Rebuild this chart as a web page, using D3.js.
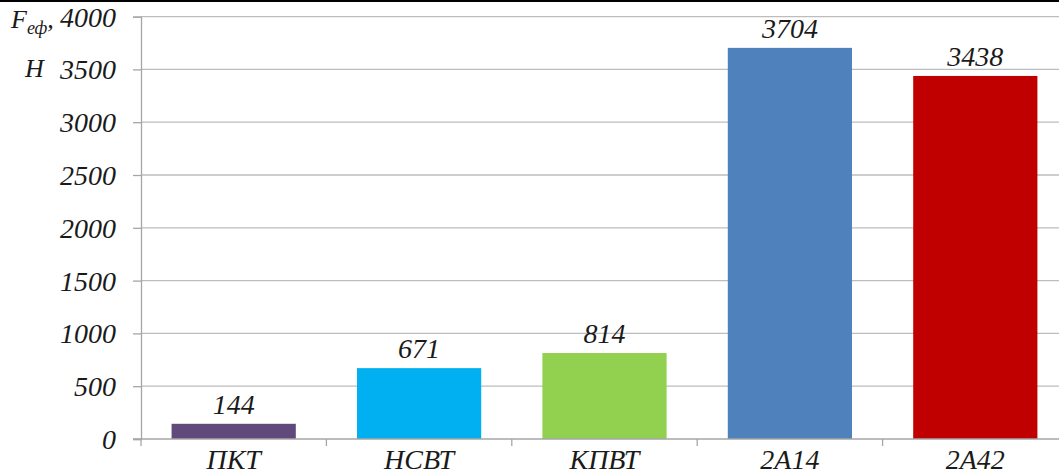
<!doctype html>
<html>
<head>
<meta charset="utf-8"/>
<script src="https://d3js.org/d3.v7.min.js"></script>
</head>
<body style="margin:0">
<script>
  var categories = ["ПКТ", "НСВТ", "КПВТ", "2А14", "2А42"];
  var values = [144, 671, 814, 3704, 3438];
  var colors = ["#604a7b", "#00b0f0", "#92d050", "#4f81bd", "#c00000"];
  var yTicks = [0, 500, 1000, 1500, 2000, 2500, 3000, 3500, 4000];

  var W = 1059, H = 475;
  var mLeft = 141, mRight = 1068, mTop = 16.6, mBottom = 439;
  var fs = 28;
  var fontName = "Liberation Serif";

  var svg = d3.select("body").append("svg")
      .attr("width", W)
      .attr("height", H);

  function styleText(sel, size) {
    sel.attr("font-size", size)
       .attr("font-style", "italic")
       .attr("fill", "#1a1a1a")
       .style("font-family", d => "'" + fontName + "'");
  }

  // top border line
  svg.append("rect").attr("x", 0).attr("y", 0).attr("width", W).attr("height", 2).attr("fill", "#000");

  var x = d3.scaleBand()
      .domain(categories)
      .range([mLeft, mRight])
      .paddingInner(0.33)
      .paddingOuter(0.165);

  var y = d3.scaleLinear()
      .domain([0, 4000])
      .range([mBottom, mTop]);

  // gridlines
  svg.selectAll("line.grid")
      .data(yTicks.slice(1))
      .enter().append("line")
      .attr("class", "grid")
      .attr("x1", mLeft).attr("x2", mRight)
      .attr("y1", d => y(d)).attr("y2", d => y(d))
      .attr("stroke", "#bdbdbd")
      .attr("stroke-width", 1.3);

  // bars
  svg.selectAll("rect.bar")
      .data(values)
      .enter().append("rect")
      .attr("class", "bar")
      .attr("x", (d, i) => x(categories[i]))
      .attr("y", d => y(d))
      .attr("width", x.bandwidth())
      .attr("height", d => y(0) - y(d))
      .attr("fill", (d, i) => colors[i]);

  // y axis lines (ticks + domain) from d3.axisLeft, labels drawn separately
  var yAxis = d3.axisLeft(y).tickValues(yTicks).tickSize(8).tickFormat("");
  var gy = svg.append("g").attr("transform", "translate(" + mLeft + ",0)").call(yAxis);
  gy.select(".domain").attr("stroke", "#a6a6a6").attr("stroke-width", 1.3);
  gy.selectAll(".tick line").attr("stroke", "#a6a6a6").attr("stroke-width", 1.3);
  gy.selectAll(".tick text").remove();

  svg.selectAll("text.ytick")
      .data(yTicks)
      .enter().append("text")
      .attr("class", "ytick")
      .attr("x", mLeft - 25)
      .attr("y", d => y(d) + 10)
      .attr("text-anchor", "end")
      .call(styleText, fs)
      .text(d => d);

  // value labels
  svg.selectAll("text.val")
      .data(values)
      .enter().append("text")
      .attr("class", "val")
      .attr("x", (d, i) => x(categories[i]) + x.bandwidth() / 2)
      .attr("y", d => y(d) - 10)
      .attr("text-anchor", "middle")
      .call(styleText, fs)
      .text(d => d);

  // x axis
  svg.append("line").attr("x1", mLeft - 8).attr("x2", mRight).attr("y1", mBottom).attr("y2", mBottom)
      .attr("stroke", "#a6a6a6").attr("stroke-width", 1.3);
  var bounds = d3.range(categories.length + 1).map(i => mLeft + i * x.step());
  svg.selectAll("line.xt")
      .data(bounds)
      .enter().append("line")
      .attr("class", "xt")
      .attr("x1", d => d).attr("x2", d => d)
      .attr("y1", mBottom).attr("y2", mBottom + 7)
      .attr("stroke", "#a6a6a6").attr("stroke-width", 1.3);
  svg.selectAll("text.cat")
      .data(categories)
      .enter().append("text")
      .attr("class", "cat")
      .attr("x", d => x(d) + x.bandwidth() / 2)
      .attr("y", mBottom + 30)
      .attr("text-anchor", "middle")
      .call(styleText, fs)
      .text(d => d);

  // y label: F_еф, H
  var lab = svg.append("text").attr("x", 11).attr("y", 28).call(styleText, 26);
  lab.append("tspan").text("F");
  lab.append("tspan").attr("font-size", 18).attr("dy", 6).text("еф");
  lab.append("tspan").attr("dy", -6).text(",");
  svg.append("text").attr("x", 25).attr("y", 77).call(styleText, 26).text("Н");
</script>
</body>
</html>
